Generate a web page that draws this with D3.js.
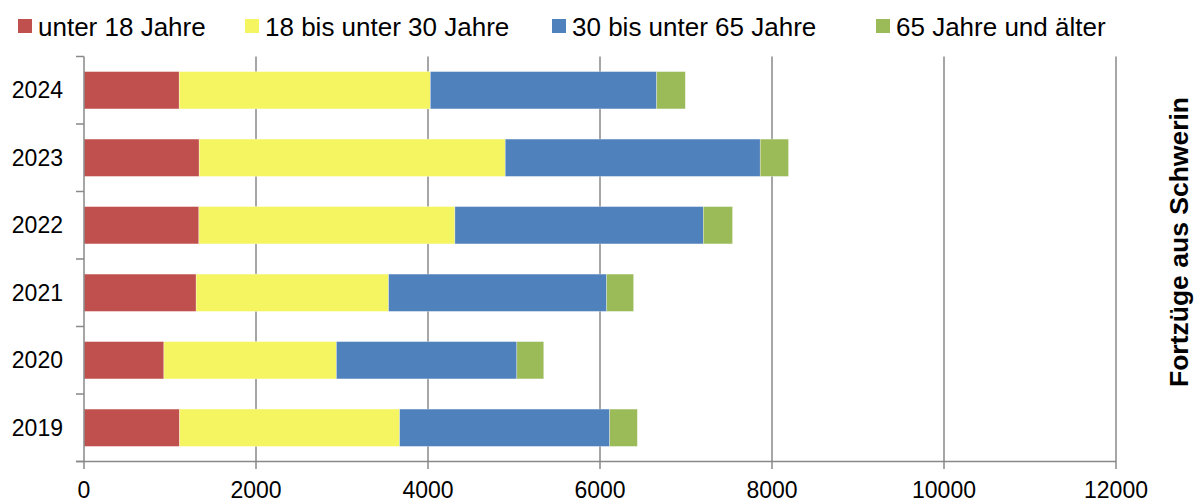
<!DOCTYPE html>
<html>
<head>
<meta charset="utf-8">
<script src="https://cdn.jsdelivr.net/npm/d3@7"></script>
<style>
    body { margin: 0; background: #fff; }
    svg { display: block; font-family: "Liberation Sans", Arial, sans-serif; }
</style>
</head>
<body>
<svg id="chart"></svg>
<script>
const width = 1197, height = 502;

// Data
const years = ["2024", "2023", "2022", "2021", "2020", "2019"];
const seriesNames = ["unter 18 Jahre", "18 bis unter 30 Jahre", "30 bis unter 65 Jahre", "65 Jahre und älter"];
const seriesColors = ["#C0504D", "#F5F562", "#4F81BD", "#9BBB59"];
const under18 = [1107, 1339, 1336, 1304, 929, 1111];
const from18to30 = [2920, 3559, 2977, 2238, 2006, 2559];
const from30to65 = [2632, 2965, 2888, 2536, 2098, 2443];
const over65 = [333, 329, 340, 313, 313, 321];
const xTicks = [0, 2000, 4000, 6000, 8000, 10000, 12000];
const sideTitle = "Fortzüge aus Schwerin";

const allSeries = [under18, from18to30, from30to65, over65];

// Build rows for d3.stack
const rows = years.map((y, i) => {
    const row = { year: y };
    seriesNames.forEach((s, j) => { row[s] = allSeries[j][i]; });
    return row;
});
const stacked = d3.stack().keys(seriesNames)(rows);

const svg = d3.select("#chart").attr("width", width).attr("height", height);

const x = d3.scaleLinear().domain([0, 12000]).range([84, 1116]);
const y = d3.scaleBand().domain(years).range([56.5, 461.5]).paddingInner(0.447).paddingOuter(0.2235);

const gridColor = "#898989";

// vertical grid lines (extend below the axis as ticks)
svg.append("g")
    .selectAll("line")
    .data(xTicks.slice(1))
    .join("line")
    .attr("x1", d => x(d)).attr("x2", d => x(d))
    .attr("y1", 56.5).attr("y2", 469)
    .attr("stroke", gridColor).attr("stroke-width", 1.5);

// bars
svg.append("g")
    .selectAll("g")
    .data(stacked)
    .join("g")
    .attr("fill", (d, i) => seriesColors[i])
    .selectAll("rect")
    .data(d => d)
    .join("rect")
    .attr("x", d => x(d[0]))
    .attr("width", d => x(d[1]) - x(d[0]))
    .attr("y", d => y(d.data.year))
    .attr("height", y.bandwidth())
    .attr("stroke", "#fff").attr("stroke-opacity", 0.5).attr("stroke-width", 0.6);

// y axis line and category ticks
svg.append("line")
    .attr("x1", x(0)).attr("x2", x(0))
    .attr("y1", 56.5).attr("y2", 469)
    .attr("stroke", gridColor).attr("stroke-width", 1.5);

const step = y.step();
svg.append("g")
    .selectAll("line")
    .data(d3.range(years.length + 1))
    .join("line")
    .attr("x1", 76).attr("x2", x(0))
    .attr("y1", i => 56.5 + i * step).attr("y2", i => 56.5 + i * step)
    .attr("stroke", gridColor).attr("stroke-width", 1.5);

// x axis line
svg.append("line")
    .attr("x1", 76).attr("x2", x(12000))
    .attr("y1", 461.5).attr("y2", 461.5)
    .attr("stroke", gridColor).attr("stroke-width", 1.5);

// x tick labels
svg.append("g")
    .selectAll("text")
    .data(xTicks)
    .join("text")
    .attr("x", d => x(d))
    .attr("y", 498)
    .attr("text-anchor", "middle")
    .attr("font-size", "23px")
    .attr("fill", "#000")
    .text(d => d);

// y tick labels
svg.append("g")
    .selectAll("text")
    .data(years)
    .join("text")
    .attr("x", 63)
    .attr("y", d => y(d) + y.bandwidth() / 2)
    .attr("dy", "0.35em")
    .attr("text-anchor", "end")
    .attr("font-size", "23px")
    .attr("fill", "#000")
    .text(d => d);

// legend
const legendX = [18, 245, 552, 876];
const legend = svg.append("g")
    .selectAll("g")
    .data(seriesNames)
    .join("g")
    .attr("transform", (d, i) => `translate(${legendX[i]},0)`);

legend.append("rect")
    .attr("x", 0).attr("y", 19)
    .attr("width", 14).attr("height", 14)
    .attr("fill", (d, i) => seriesColors[i]);

legend.append("text")
    .attr("x", 20).attr("y", 36)
    .attr("font-size", "26px")
    .attr("fill", "#000")
    .text(d => d);

// rotated side title
svg.append("text")
    .attr("transform", "translate(1188,242) rotate(-90)")
    .attr("text-anchor", "middle")
    .attr("font-size", "26.5px")
    .attr("font-weight", "bold")
    .attr("fill", "#000")
    .text(sideTitle);
</script>
</body>
</html>
